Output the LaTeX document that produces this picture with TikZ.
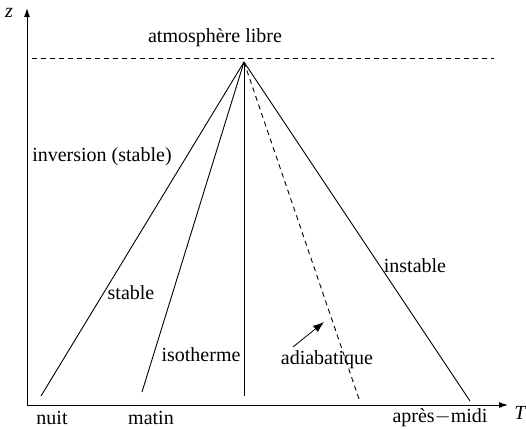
\documentclass[tikz,border=0pt]{standalone}
\usepackage{fontspec}
\setmainfont{Liberation Serif}
\usetikzlibrary{arrows.meta}
\begin{document}
\begin{tikzpicture}[x=1pt,y=-1pt,
  lbl/.style={inner sep=0pt,font=\fontsize{20}{24}\selectfont},
  prof/.style={line width=0.9pt},
  axis/.style={line width=1pt,-{Latex[length=9pt,width=6pt]}}]
\useasboundingbox (0,0) rectangle (526,428);
\coordinate (O) at (27,405);
\coordinate (ztip) at (27,8);
\coordinate (Ttip) at (508,405);
\draw[axis] (O) -- (ztip);
\draw[axis] (O) -- (Ttip);
\node[lbl,font=\fontsize{20}{24}\selectfont\itshape] (z) at (9,13) {z};
\node[lbl,font=\fontsize{20}{24}\selectfont\itshape] (T) at (520,413) {T};
\coordinate (dl) at (32,58);
\coordinate (dr) at (494,58);
\draw[dashed,line width=0.8pt,dash pattern=on 5pt off 4pt] (dl) -- (dr);
\coordinate (A) at (244,62);
\coordinate (e1) at (41,396);
\coordinate (e2) at (142,392);
\coordinate (e3) at (244,396);
\coordinate (e4) at (359,399);
\coordinate (e5) at (470,401);
\draw[prof] (A) -- (e1);
\draw[prof] (A) -- (e2);
\draw[prof] (A) -- (e3);
\draw[prof,dashed,dash pattern=on 5pt off 4pt] (A) -- (e4);
\draw[prof] (A) -- (e5);
\node[lbl] (atm) at (215,38) {atmosphère libre};
\node[lbl] (inv) at (102,157) {inversion (stable)};
\node[lbl] (st) at (131,293) {stable};
\node[lbl] (iso) at (201,355) {isotherme};
\node[lbl] (adi) at (327,360) {adiabatique};
\node[lbl] (ins) at (415,266) {instable};
\node[lbl] (nuit) at (52,418) {nuit};
\node[lbl] (mat) at (151,418) {matin};
\node[lbl] (apm) at (440,418) {après$-$midi};
\coordinate (arrS) at (293,347);
\coordinate (arrE) at (324,322);
\draw[line width=0.8pt,-{Latex[length=11pt,width=8pt]}] (arrS) -- (arrE);
\end{tikzpicture}
\end{document}
